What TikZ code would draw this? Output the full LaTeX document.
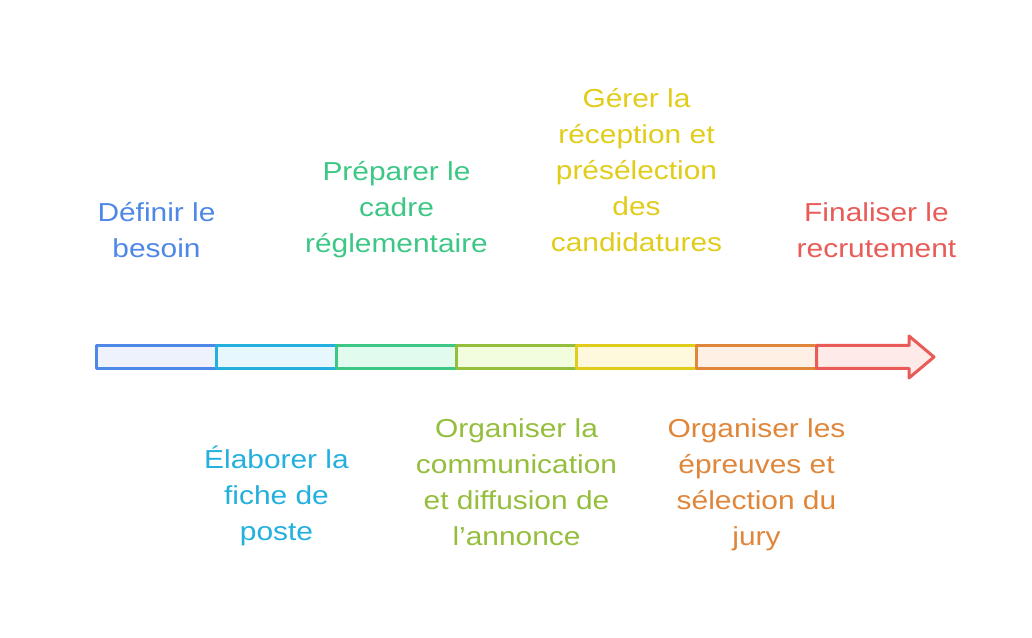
\documentclass[tikz,border=0pt]{standalone}
\usepackage{fontspec}
\setmainfont[FakeStretch=1.15]{Liberation Sans}
\usepackage{tikz}
\definecolor{cblue}{HTML}{4E88E7}
\definecolor{fblue}{HTML}{EDF2FD}
\definecolor{ccyan}{HTML}{23B0DE}
\definecolor{fcyan}{HTML}{E6F7FD}
\definecolor{cgreen}{HTML}{3DC785}
\definecolor{fgreen}{HTML}{E1FCEF}
\definecolor{colive}{HTML}{94BE3B}
\definecolor{folive}{HTML}{F2FDDE}
\definecolor{cyellow}{HTML}{E2CC1A}
\definecolor{fyellow}{HTML}{FEF9DC}
\definecolor{corange}{HTML}{E0863A}
\definecolor{forange}{HTML}{FEF0E4}
\definecolor{cred}{HTML}{E85B57}
\definecolor{fred}{HTML}{FFEAEA}

\begin{document}
\begin{tikzpicture}[x=0.75pt,y=0.75pt,
  seg/.style={draw,line width=2.25pt,line join=round,minimum width=90pt,minimum height=17.25pt,inner sep=0pt,outer sep=0pt},
  lbl/.style={align=center,anchor=base,font=\fontsize{19.5}{27}\selectfont}]
\useasboundingbox (0,0) rectangle (1032,638);
%%%%%timeline segments
\node[seg,draw=cblue,fill=fblue] (s1) at (156.5,281) {};
\node[seg,draw=ccyan,fill=fcyan] (s2) at (276.5,281) {};
\node[seg,draw=cgreen,fill=fgreen] (s3) at (396.5,281) {};
\node[seg,draw=colive,fill=folive] (s4) at (516.5,281) {};
\node[seg,draw=cyellow,fill=fyellow] (s5) at (636.5,281) {};
\node[seg,draw=corange,fill=forange] (s6) at (756.5,281) {};
%%%%%last segment with the arrow head
\draw[line width=2.25pt,line join=round,draw=cred,fill=fred] (s6.south east) -- (909,269.5) -- (909,260) -- (934,281) -- (909,302) -- (909,292.5) -- (s6.north east) -- cycle;
%%%%%labels above
\node[lbl,text=cblue] (t1) at (156.5,380) {Définir le\\besoin};
\node[lbl,text=cgreen] (t3) at (396.5,385) {Préparer le\\cadre\\réglementaire};
\node[lbl,text=cyellow] (t5) at (636.5,386) {Gérer la\\réception et\\présélection\\des\\candidatures};
\node[lbl,text=cred] (t7) at (876.5,380) {Finaliser le\\recrutement};
%%%%%labels below
\node[lbl,text=ccyan] (t2) at (276.5,97) {Élaborer la\\fiche de\\poste};
\node[lbl,text=colive] (t4) at (516.5,92) {Organiser la\\communication\\et diffusion de\\l’annonce};
\node[lbl,text=corange] (t6) at (756.5,92) {Organiser les\\épreuves et\\sélection du\\jury};
\end{tikzpicture}
\end{document}
